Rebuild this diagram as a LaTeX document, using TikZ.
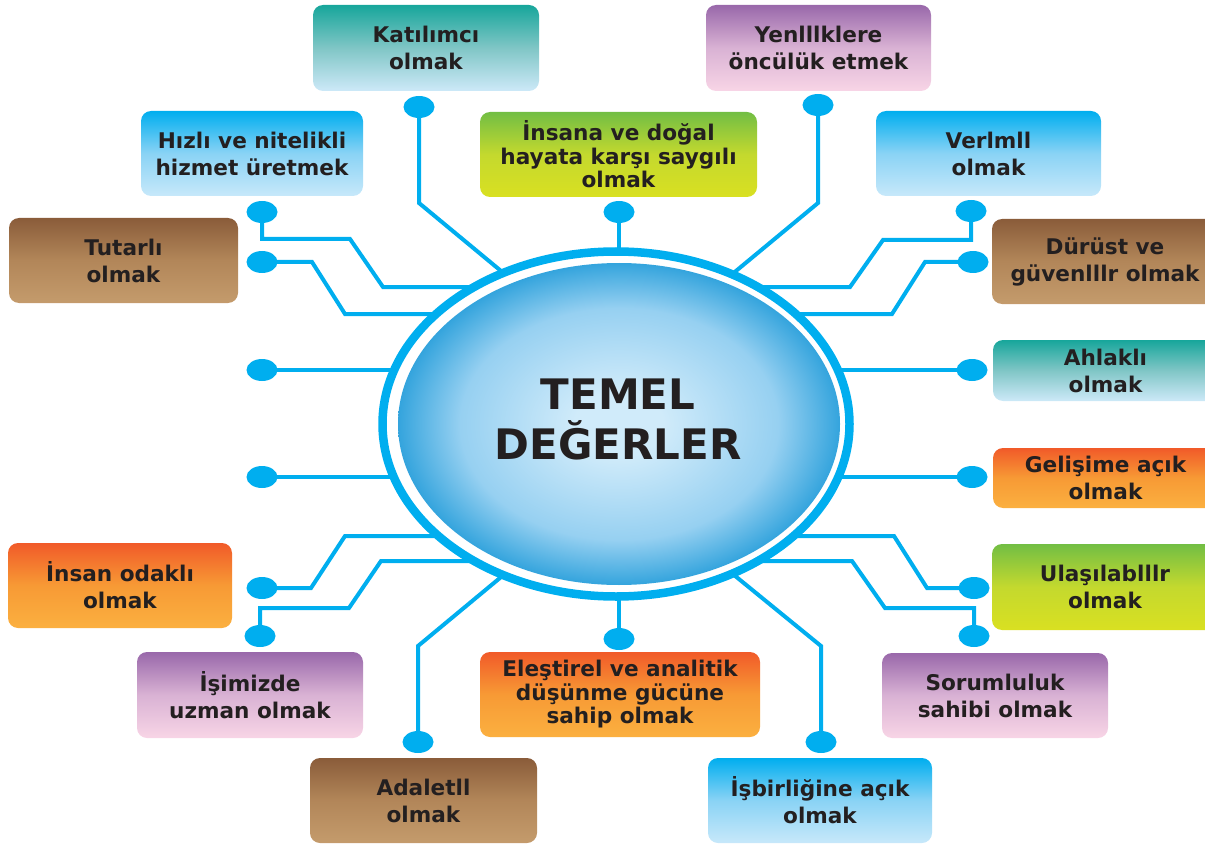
\documentclass[tikz,border=0pt]{standalone}
\usepackage{fontspec}
\setmainfont{DejaVu Sans}
\usetikzlibrary{shapes.geometric,backgrounds}
\definecolor{cy}{HTML}{00AEEF}
\definecolor{txt}{HTML}{231F20}
\definecolor{tealA}{HTML}{17A69B}\definecolor{tealB}{HTML}{80C6C6}\definecolor{tealC}{HTML}{CDE9F8}
\definecolor{purA}{HTML}{9968AA}\definecolor{purB}{HTML}{D9B2D4}\definecolor{purC}{HTML}{F8D5E6}
\definecolor{bluA}{HTML}{00AEEF}\definecolor{bluB}{HTML}{8AD3F5}\definecolor{bluC}{HTML}{C7E8FA}
\definecolor{grnA}{HTML}{72BE44}\definecolor{grnB}{HTML}{C4D92E}\definecolor{grnC}{HTML}{D9E021}
\definecolor{brnA}{HTML}{8A5C3A}\definecolor{brnB}{HTML}{B28659}\definecolor{brnC}{HTML}{C49B6C}
\definecolor{orgA}{HTML}{F15A29}\definecolor{orgB}{HTML}{F79A35}\definecolor{orgC}{HTML}{FBB040}
\definecolor{coreIn}{HTML}{D0EBFA}\definecolor{coreMid}{HTML}{96D0F1}\definecolor{coreOut}{HTML}{34A4DD}
\pgfdeclareradialshading{coreshade}{\pgfpoint{0bp}{0bp}}{color(0bp)=(coreIn); color(5bp)=(coreIn); color(18bp)=(coreMid); color(25bp)=(coreOut); color(50bp)=(coreOut)}
\tikzset{
  conn/.style={draw=cy, line width=4},
  dot/.style={ellipse, fill=cy, minimum width=31, minimum height=22, inner sep=0},
  box/.style={rectangle, rounded corners=10, inner sep=0, align=center, text=txt,
    font=\bfseries\fontsize{21.6}{27}\selectfont},
  boxthree/.style={box, font=\bfseries\fontsize{21.6}{23.5}\selectfont},
  gTeal/.style={top color=tealA, bottom color=tealC, middle color=tealB},
  gPurple/.style={top color=purA, bottom color=purC, middle color=purB},
  gBlue/.style={top color=bluA, bottom color=bluC, middle color=bluB},
  gGreen/.style={top color=grnA, bottom color=grnC, middle color=grnB},
  gBrown/.style={top color=brnA, bottom color=brnC, middle color=brnB},
  gOrange/.style={top color=orgA, bottom color=orgC, middle color=orgB},
}
\begin{document}
\begin{tikzpicture}[x=1pt,y=-1pt]
\useasboundingbox (0,0) rectangle (1205,845);

% boxes
\node[box,gTeal,minimum width=226,minimum height=86] (kat) at (426,48) {Katılımcı\\olmak};
\node[box,gPurple,minimum width=225,minimum height=86] (yen) at (818.5,48) {Yenlllklere\\öncülük etmek};
\node[box,gBlue,minimum width=222,minimum height=85] (hiz) at (252,153.5) {Hızlı ve nitelikli\\hizmet üretmek};
\node[boxthree,gGreen,minimum width=277,minimum height=85] (ins) at (618.5,154.5) {İnsana ve doğal\\hayata karşı saygılı\\olmak};
\node[box,gBlue,minimum width=225,minimum height=85] (ver) at (988.5,153.5) {Verlmll\\olmak};
\node[box,gBrown,minimum width=229,minimum height=85] (tut) at (123.5,260.5) {Tutarlı\\olmak};
\node[box,gBrown,minimum width=226,minimum height=85] (dur) at (1105,261.5) {Dürüst ve\\güvenlllr olmak};
\node[box,gTeal,minimum width=225,minimum height=61] (ahl) at (1105.5,370.5) {Ahlaklı\\olmak};
\node[box,gOrange,minimum width=225,minimum height=60] (gel) at (1105.5,478) {Gelişime açık\\olmak};
\node[box,gOrange,minimum width=224,minimum height=85] (insod) at (120,585.5) {İnsan odaklı\\olmak};
\node[box,gPurple,minimum width=226,minimum height=86] (isim) at (250,695) {İşimizde\\uzman olmak};
\node[box,gBrown,minimum width=227,minimum height=85] (ada) at (423.5,800.5) {Adaletll\\olmak};
\node[boxthree,gOrange,minimum width=280,minimum height=85] (ele) at (620,694.5) {Eleştirel ve analitik\\düşünme gücüne\\sahip olmak};
\node[box,gBlue,minimum width=224,minimum height=85] (isb) at (820,800.5) {İşbirliğine açık\\olmak};
\node[box,gGreen,minimum width=226,minimum height=86] (ula) at (1105,587) {Ulaşılablllr\\olmak};
\node[box,gPurple,minimum width=226,minimum height=85] (sor) at (995,695.5) {Sorumluluk\\sahibi olmak};

% dots
\node[dot] (dkat) at (419,107) {};
\node[dot] (dyen) at (818,105) {};
\node[dot] (dhiz) at (262,212) {};
\node[dot] (dins) at (619,212) {};
\node[dot] (dver) at (971,211) {};
\node[dot] (dtut) at (262,262) {};
\node[dot] (ddur) at (973,262) {};
\node[dot] (dlone) at (262,370) {};
\node[dot] (dahl) at (972,370) {};
\node[dot] (dltwo) at (262,477) {};
\node[dot] (dgel) at (972,477) {};
\node[dot] (dinsod) at (262,588) {};
\node[dot] (dula) at (974,588) {};
\node[dot] (disim) at (260,636) {};
\node[dot] (dsor) at (974,636) {};
\node[dot] (dele) at (619,639) {};
\node[dot] (dada) at (418,742) {};
\node[dot] (disb) at (821,742) {};

% core
\node[ellipse, draw=cy, line width=8.5, fill=white, minimum width=467, minimum height=345, inner sep=0] (ring) at (616,424) {};
\node[ellipse, shading=coreshade, minimum width=442, minimum height=322, inner sep=0] (core) at (619,424) {};
\node[align=center, text=txt, font=\bfseries\fontsize{42}{50}\selectfont] (title) at (618,419) {TEMEL\\DEĞERLER};

% bend coordinates
\coordinate (k1) at (419,203); \coordinate (k2) at (530,295);
\coordinate (i1) at (619,300);
\coordinate (y1) at (818,203); \coordinate (y2) at (707,295);
\coordinate (h1) at (262,239); \coordinate (h2) at (350,239); \coordinate (h3) at (383,287); \coordinate (h4) at (510,287);
\coordinate (t1) at (312,262); \coordinate (t2) at (345,314); \coordinate (t3) at (470,314);
\coordinate (lonee) at (430,370); \coordinate (ltwoe) at (430,477);
\coordinate (v1) at (971,240); \coordinate (v2) at (883,240); \coordinate (v3) at (850,287); \coordinate (v4) at (727,287);
\coordinate (u1) at (925,262); \coordinate (u2) at (892,314); \coordinate (u3) at (767,314);
\coordinate (a1) at (805,370); \coordinate (g1) at (805,477);
\coordinate (o1) at (311,588); \coordinate (o2) at (345,536); \coordinate (o3) at (470,536);
\coordinate (m1) at (260,608); \coordinate (m2) at (349,608); \coordinate (m3) at (381,561); \coordinate (m4) at (510,561);
\coordinate (e1) at (418,646); \coordinate (e2) at (530,553);
\coordinate (c1) at (619,560);
\coordinate (b1) at (821,646); \coordinate (b2) at (707,553);
\coordinate (w1) at (927,588); \coordinate (w2) at (894,536); \coordinate (w3) at (767,536);
\coordinate (s1) at (974,608); \coordinate (s2) at (885,608); \coordinate (s3) at (852,561); \coordinate (s4) at (727,561);

\begin{pgfonlayer}{background}
\draw[conn] (dkat.center) -- (k1) -- (k2);
\draw[conn] (dins.center) -- (i1);
\draw[conn] (dyen.center) -- (y1) -- (y2);
\draw[conn] (dhiz.center) -- (h1) -- (h2) -- (h3) -- (h4);
\draw[conn] (dtut.center) -- (t1) -- (t2) -- (t3);
\draw[conn] (dlone.center) -- (lonee);
\draw[conn] (dltwo.center) -- (ltwoe);
\draw[conn] (dver.center) -- (v1) -- (v2) -- (v3) -- (v4);
\draw[conn] (ddur.center) -- (u1) -- (u2) -- (u3);
\draw[conn] (dahl.center) -- (a1);
\draw[conn] (dgel.center) -- (g1);
\draw[conn] (dinsod.center) -- (o1) -- (o2) -- (o3);
\draw[conn] (disim.center) -- (m1) -- (m2) -- (m3) -- (m4);
\draw[conn] (dada.center) -- (e1) -- (e2);
\draw[conn] (dele.center) -- (c1);
\draw[conn] (disb.center) -- (b1) -- (b2);
\draw[conn] (dula.center) -- (w1) -- (w2) -- (w3);
\draw[conn] (dsor.center) -- (s1) -- (s2) -- (s3) -- (s4);
\end{pgfonlayer}
\end{tikzpicture}
\end{document}
